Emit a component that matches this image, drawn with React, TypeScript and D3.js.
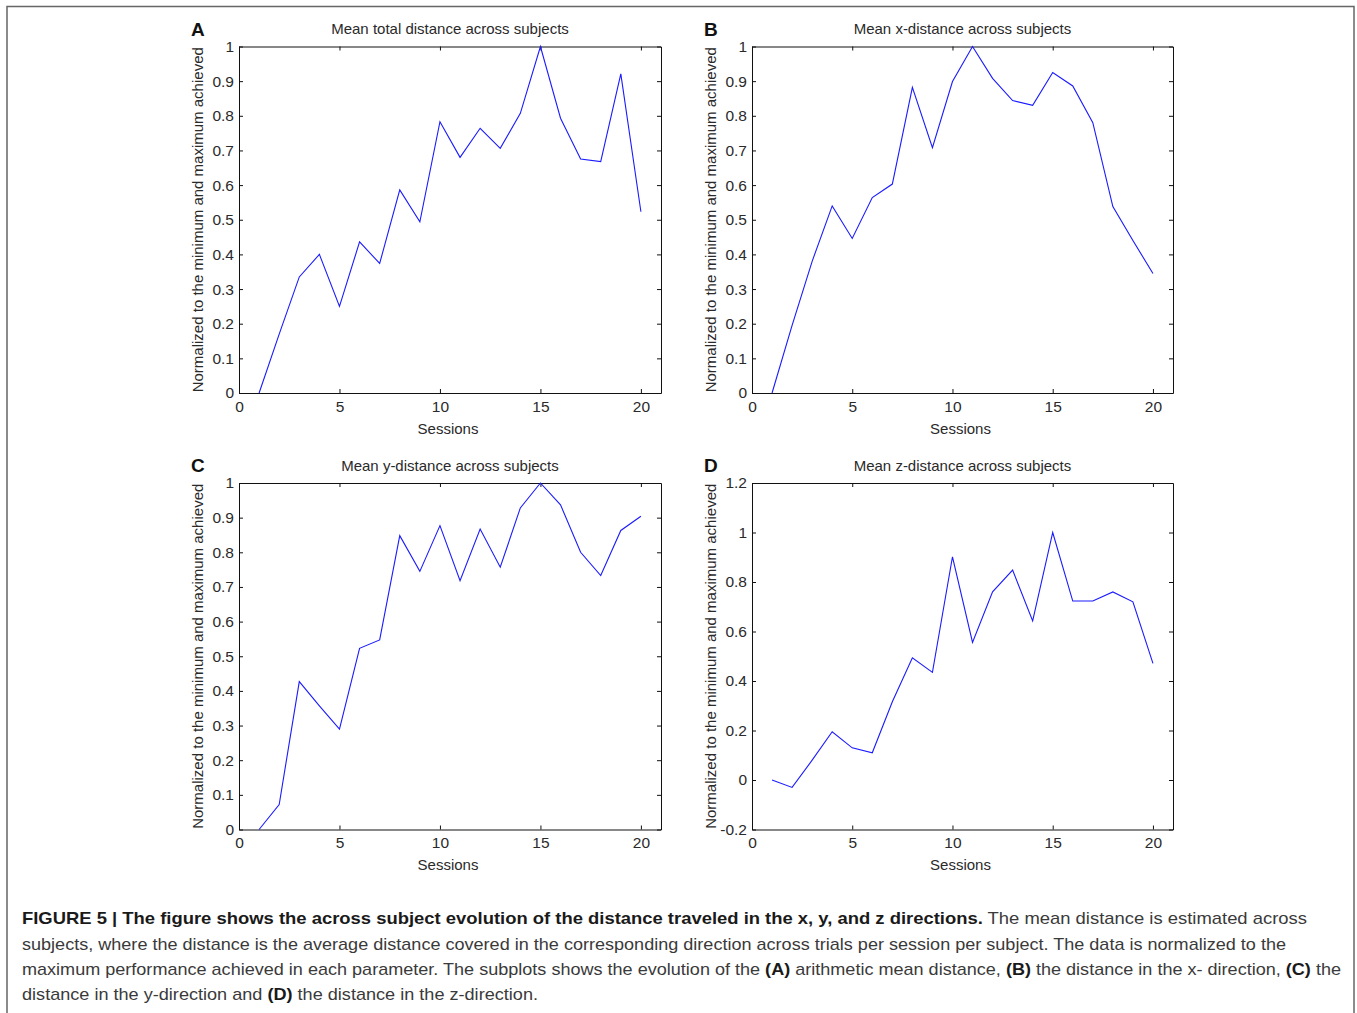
import React, { useEffect, useRef } from 'react';
import * as d3 from 'd3';

const FONT = '"Liberation Sans", Arial, Helvetica, sans-serif';

// sessions 1..20
const sessions = [1, 2, 3, 4, 5, 6, 7, 8, 9, 10, 11, 12, 13, 14, 15, 16, 17, 18, 19, 20];

// values (normalized)
const totalDistance = [0, 0.17, 0.335, 0.4, 0.25, 0.436, 0.374, 0.586, 0.494, 0.783, 0.68, 0.764, 0.706, 0.807, 1.0, 0.793, 0.675, 0.668, 0.921, 0.523];
const xDistance = [0, 0.195, 0.38, 0.54, 0.446, 0.564, 0.603, 0.882, 0.708, 0.899, 1.0, 0.908, 0.844, 0.83, 0.925, 0.886, 0.78, 0.538, 0.44, 0.345];
const yDistance = [0, 0.072, 0.427, 0.357, 0.29, 0.523, 0.547, 0.848, 0.745, 0.877, 0.718, 0.867, 0.757, 0.928, 1.0, 0.937, 0.8, 0.733, 0.863, 0.904];
const zDistance = [0, -0.03, 0.08, 0.195, 0.13, 0.11, 0.316, 0.494, 0.435, 0.902, 0.556, 0.76, 0.848, 0.643, 1.0, 0.723, 0.723, 0.76, 0.72, 0.471];

const xTicks = [0, 5, 10, 15, 20];
const unitTicks = [0, 0.1, 0.2, 0.3, 0.4, 0.5, 0.6, 0.7, 0.8, 0.9, 1];
const zTicks = [-0.2, 0, 0.2, 0.4, 0.6, 0.8, 1, 1.2];

const panelLetters = ['A', 'B', 'C', 'D'];
const panelTitles = [
  'Mean total distance across subjects',
  'Mean x-distance across subjects',
  'Mean y-distance across subjects',
  'Mean z-distance across subjects',
];
const panelSeries = [totalDistance, xDistance, yDistance, zDistance];
const panelYDomains: [number, number][] = [[0, 1], [0, 1], [0, 1], [-0.2, 1.2]];
const panelYTicks = [unitTicks, unitTicks, unitTicks, zTicks];
const yLabel = 'Normalized to the minimum and maximum achieved';
const xLabel = 'Sessions';

// axes boxes in page pixels
const frames = [
  { left: 239, right: 661, top: 46.5, bottom: 393 },
  { left: 752, right: 1173, top: 46.5, bottom: 393 },
  { left: 239, right: 661, top: 483, bottom: 829.5 },
  { left: 752, right: 1173, top: 483, bottom: 829.5 },
];

// caption, one entry per printed line: [text, bold]
const captionLines: [string, boolean][][] = [
  [
    ['FIGURE 5 | The figure shows the across subject evolution of the distance traveled in the x, y, and z directions.', true],
    [' The mean distance is estimated across', false],
  ],
  [
    ['subjects, where the distance is the average distance covered in the corresponding direction across trials per session per subject. The data is normalized to the', false],
  ],
  [
    ['maximum performance achieved in each parameter. The subplots shows the evolution of the ', false],
    ['(A)', true],
    [' arithmetic mean distance, ', false],
    ['(B)', true],
    [' the distance in the x- direction, ', false],
    ['(C)', true],
    [' the', false],
  ],
  [
    ['distance in the y-direction and ', false],
    ['(D)', true],
    [' the distance in the z-direction.', false],
  ],
];
const captionWidths = [1285, 1264, 1319, 516];
const captionBaselines = [924, 950, 975, 1000];

const App = () => {
  const ref = useRef<SVGSVGElement>(null);

  useEffect(() => {
    const svg = d3.select(ref.current);
    svg.selectAll('*').remove();

    // outer frame of the figure
    svg.append('path')
      .attr('d', 'M7,1020V6.5H1354V1020')
      .attr('fill', 'none')
      .attr('stroke', '#666')
      .attr('stroke-width', 1.5);

    panelSeries.forEach((values, i) => {
      const f = frames[i];
      const x = d3.scaleLinear().domain([0, 21]).range([f.left, f.right]);
      const y = d3.scaleLinear().domain(panelYDomains[i]).range([f.bottom, f.top]);
      const g = svg.append('g');

      const styleAxis = (a: any) => a
        .attr('font-family', FONT)
        .attr('font-size', 15.5)
        .attr('color', '#111')
        .call((s: any) => s.selectAll('text').attr('fill', '#2a2a2a'));

      g.append('g')
        .attr('transform', `translate(0,${f.bottom})`)
        .call(d3.axisBottom(x).tickValues(xTicks).tickSizeInner(-4).tickSizeOuter(0).tickPadding(7.5))
        .call(styleAxis);
      g.append('g')
        .attr('transform', `translate(0,${f.top})`)
        .call(d3.axisTop(x).tickValues(xTicks).tickSizeInner(-4).tickSizeOuter(0).tickFormat(() => ''))
        .call(styleAxis);
      g.append('g')
        .attr('transform', `translate(${f.left},0)`)
        .call(d3.axisLeft(y).tickValues(panelYTicks[i]).tickSizeInner(-4).tickSizeOuter(0).tickPadding(5)
          .tickFormat((d: any) => String(d)))
        .call(styleAxis);
      g.append('g')
        .attr('transform', `translate(${f.right},0)`)
        .call(d3.axisRight(y).tickValues(panelYTicks[i]).tickSizeInner(-4).tickSizeOuter(0).tickFormat(() => ''))
        .call(styleAxis);

      const line = d3.line<number>()
        .x((_, k) => x(sessions[k]))
        .y((d) => y(d));
      g.append('path')
        .datum(values)
        .attr('d', line)
        .attr('fill', 'none')
        .attr('stroke', '#1a1aff')
        .attr('stroke-width', 1.1);

      g.append('text')
        .attr('x', (f.left + f.right) / 2)
        .attr('y', f.top - 12.5)
        .attr('text-anchor', 'middle')
        .attr('font-family', FONT)
        .attr('font-size', 15)
        .attr('fill', '#2a2a2a')
        .text(panelTitles[i]);

      g.append('text')
        .attr('x', (f.left + f.right) / 2 - 2)
        .attr('y', f.bottom + 40.5)
        .attr('text-anchor', 'middle')
        .attr('font-family', FONT)
        .attr('font-size', 15)
        .attr('fill', '#2a2a2a')
        .text(xLabel);

      g.append('text')
        .attr('transform', `translate(${f.left - 36},${(f.top + f.bottom) / 2}) rotate(-90)`)
        .attr('text-anchor', 'middle')
        .attr('font-family', FONT)
        .attr('font-size', 15)
        .attr('fill', '#2a2a2a')
        .text(yLabel);

      g.append('text')
        .attr('x', f.left - 48)
        .attr('y', f.top - 11)
        .attr('font-family', FONT)
        .attr('font-size', 19)
        .attr('font-weight', 'bold')
        .attr('fill', '#111')
        .text(panelLetters[i]);
    });

    captionLines.forEach((segs, li) => {
      const t = svg.append('text')
        .attr('x', 22)
        .attr('y', captionBaselines[li])
        .attr('font-family', FONT)
        .attr('font-size', 17)
        .attr('fill', '#3a3a3a')
        .attr('textLength', captionWidths[li])
        .attr('lengthAdjust', 'spacingAndGlyphs');
      segs.forEach(([txt, bold]) => {
        t.append('tspan')
          .attr('font-weight', bold ? 'bold' : 'normal')
          .attr('fill', bold ? '#1a1a1a' : '#3a3a3a')
          .text(txt);
      });
    });
  }, []);

  return (
    <svg
      ref={ref}
      width={1357}
      height={1013}
      style={{ position: 'absolute', left: 0, top: 0, background: '#fff' }}
    />
  );
};

export default App;
